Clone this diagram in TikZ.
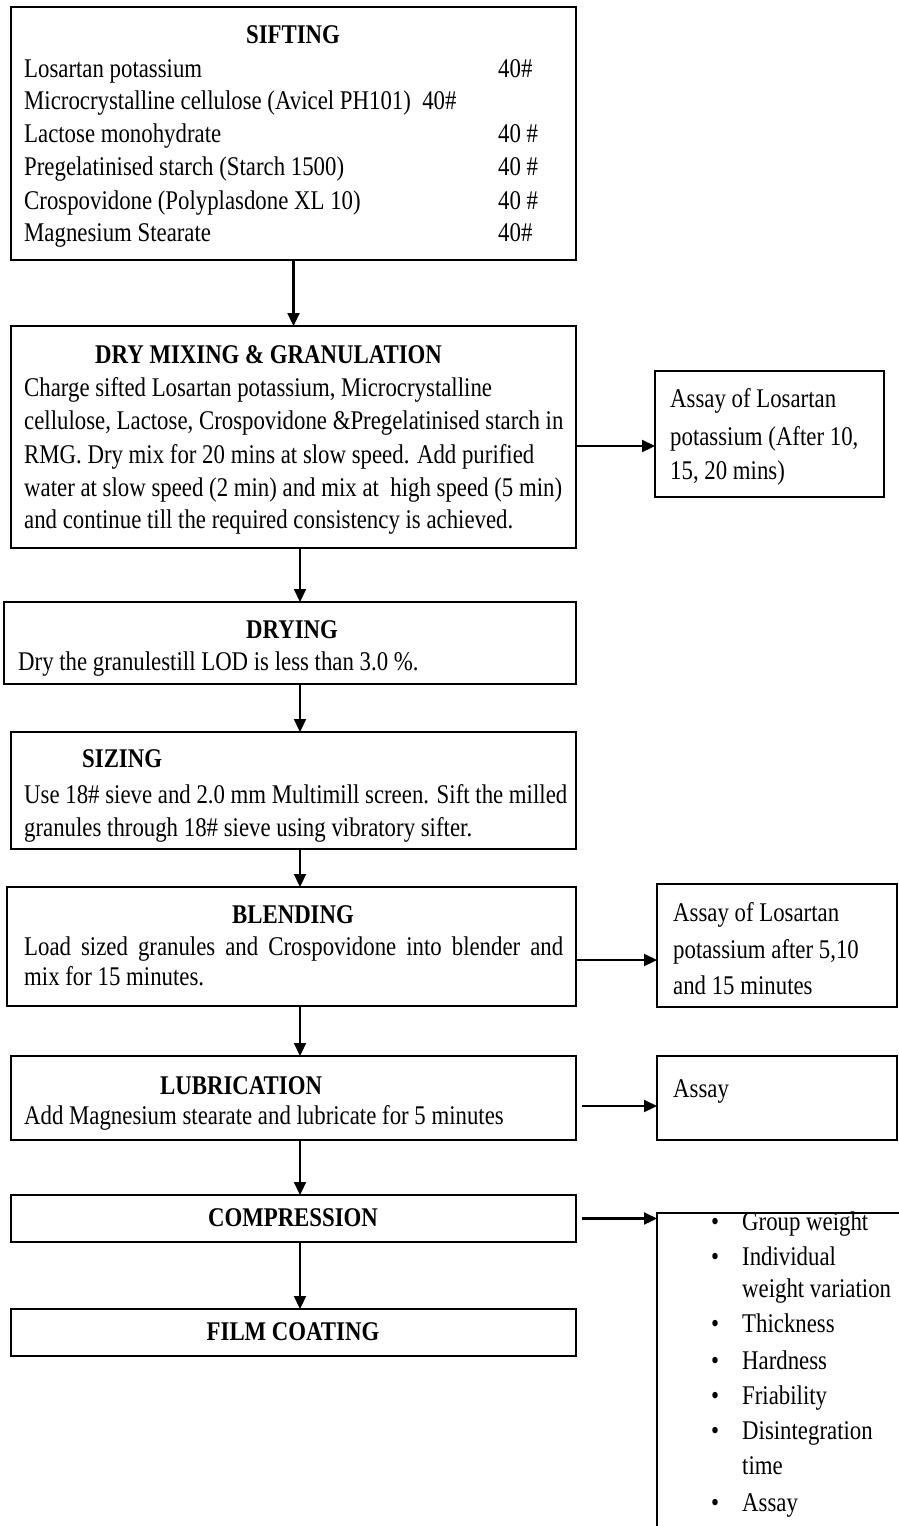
\documentclass[tikz,border=0pt]{standalone}
\usepackage{fontspec}
\setmainfont[FakeStretch=0.845]{Liberation Serif}
\usetikzlibrary{arrows.meta}
\tikzset{
  box/.style={draw, line width=2.2pt, inner sep=0pt, outer sep=0pt},
  txt/.style={anchor=base west, inner sep=0pt, font=\fontsize{27}{33}\selectfont},
  ttl/.style={anchor=base, inner sep=0pt, font=\fontsize{27}{33}\selectfont\bfseries},
  ttlw/.style={anchor=base west, inner sep=0pt, font=\fontsize{27}{33}\selectfont\bfseries},
  arr/.style={line width=2.2pt, -{Triangle[length=13pt,width=12pt]}},
}
\begin{document}
\begin{tikzpicture}[x=1pt,y=-1pt]
\useasboundingbox (0,0) rectangle (899,1526);
% boxes
\node[box, minimum width=565pt, minimum height=253pt] (sift) at (293.5,133.5) {};
\node[box, minimum width=565pt, minimum height=222pt] (mix) at (293.5,437) {};
\node[box, minimum width=229pt, minimum height=126pt] (a1) at (769.5,434) {};
\node[box, minimum width=572pt, minimum height=82pt] (dryg) at (290,643) {};
\node[box, minimum width=565pt, minimum height=117pt] (size) at (293.5,790.5) {};
\node[box, minimum width=569pt, minimum height=119pt] (blend) at (291.5,946.5) {};
\node[box, minimum width=240pt, minimum height=123pt] (a2) at (777,945.5) {};
\node[box, minimum width=565pt, minimum height=84pt] (lub) at (293.5,1098) {};
\node[box, minimum width=240pt, minimum height=84pt] (a3) at (777,1098) {};
\node[box, minimum width=565pt, minimum height=47pt] (comp) at (293.5,1218.5) {};
\node[box, minimum width=565pt, minimum height=47pt] (film) at (293.5,1332.5) {};
\node[inner sep=0pt, outer sep=0pt, minimum width=250pt, minimum height=320pt] (qbox) at (782,1373) {};
\draw[line width=2.2pt] (qbox.north east) -- (qbox.north west) -- (qbox.south west);

% SIFTING
\node[ttl] (t1) at (293,43) {SIFTING};
\node[txt] (s1) at (24,77) {Losartan potassium};
\node[txt] (s1b) at (498,77) {40\#};
\node[txt] (s2) at (24,109) {Microcrystalline cellulose (Avicel PH101) \ 40\#};
\node[txt] (s3) at (24,142) {Lactose monohydrate};
\node[txt] (s3b) at (498,142) {40 \#};
\node[txt] (s4) at (24,175) {Pregelatinised starch (Starch 1500)};
\node[txt] (s4b) at (498,175) {40 \#};
\node[txt] (s5) at (24,209) {Crospovidone (Polyplasdone XL 10)};
\node[txt] (s5b) at (498,209) {40 \#};
\node[txt] (s6) at (24,241) {Magnesium Stearate};
\node[txt] (s6b) at (498,241) {40\#};

% DRY MIXING
\node[ttlw] (t2) at (95,363) {DRY MIXING \& GRANULATION};
\node[txt] (m1) at (24,396) {Charge sifted Losartan potassium, Microcrystalline};
\node[txt] (m2) at (24,429) {cellulose, Lactose, Crospovidone \&Pregelatinised starch in};
\node[txt] (m3) at (24,463) {RMG. Dry mix for 20 mins at slow speed. Add purified};
\node[txt] (m4) at (24,496) {water at slow speed (2 min) and mix at \ high speed (5 min)};
\node[txt] (m5) at (24,528) {and continue till the required consistency is achieved.};

\node[txt] (p1) at (670,407) {Assay of Losartan};
\node[txt] (p2) at (670,445) {potassium (After 10,};
\node[txt] (p3) at (670,479) {15, 20 mins)};

% DRYING
\node[ttl] (t3) at (292,638) {DRYING};
\node[txt] (d1) at (18,670) {Dry the granulestill LOD is less than 3.0 \%.};

% SIZING
\node[ttlw] (t4) at (82,767) {SIZING};
\node[txt] (z1) at (24,803) {Use 18\# sieve and 2.0 mm Multimill screen. Sift the milled};
\node[txt] (z2) at (24,836) {granules through 18\# sieve using vibratory sifter.};

% BLENDING
\node[ttl] (t5) at (293,923) {BLENDING};
\node[txt] (b1) at (24,955) {\makebox[539pt][s]{Load sized granules and Crospovidone into blender and}};
\node[txt] (b2) at (24,985) {mix for 15 minutes.};

\node[txt] (q1) at (673,921) {Assay of Losartan};
\node[txt] (q2) at (673,958) {potassium after 5,10};
\node[txt] (q3) at (673,994) {and 15 minutes};

% LUBRICATION
\node[ttlw] (t6) at (160,1094) {LUBRICATION};
\node[txt] (l1) at (24,1124) {Add Magnesium stearate and lubricate for 5 minutes};
\node[txt] (r1) at (673,1097) {Assay};

% COMPRESSION / FILM COATING
\node[ttl] (t7) at (293,1226) {COMPRESSION};
\node[ttl] (t8) at (293,1340) {FILM COATING};

% tests list
\node[txt] (u1) at (711,1230) {•};
\node[txt] (v1) at (742,1230) {Group weight};
\node[txt] (u2) at (711,1265) {•};
\node[txt] (v2) at (742,1265) {Individual};
\node[txt] (v2b) at (742,1297) {weight variation};
\node[txt] (u3) at (711,1332) {•};
\node[txt] (v3) at (742,1332) {Thickness};
\node[txt] (u4) at (711,1369) {•};
\node[txt] (v4) at (742,1369) {Hardness};
\node[txt] (u5) at (711,1404) {•};
\node[txt] (v5) at (742,1404) {Friability};
\node[txt] (u6) at (711,1439) {•};
\node[txt] (v6) at (742,1439) {Disintegration};
\node[txt] (v6b) at (742,1474) {time};
\node[txt] (u7) at (711,1511) {•};
\node[txt] (v7) at (742,1511) {Assay};

% vertical arrows
\draw[arr] (sift.south) -- (mix.north);
\draw[arr] ([xshift=6.5pt]mix.south) -- ([xshift=10pt]dryg.north);
\draw[arr] ([xshift=10pt]dryg.south) -- ([xshift=6.5pt]size.north);
\draw[arr] ([xshift=6.5pt]size.south) -- ([xshift=8.5pt]blend.north);
\draw[arr] ([xshift=8.5pt]blend.south) -- ([xshift=6.5pt]lub.north);
\draw[arr] ([xshift=6.5pt]lub.south) -- ([xshift=6.5pt]comp.north);
\draw[arr] ([xshift=6.5pt]comp.south) -- ([xshift=6.5pt]film.north);

% horizontal arrows
\coordinate (h1) at ([yshift=-9pt]mix.east);
\coordinate (h2) at ([yshift=-13.5pt]blend.east);
\coordinate (h3) at ([xshift=6pt,yshift=-8pt]lub.east);
\coordinate (h4) at ([xshift=6pt]comp.east);
\draw[arr] (h1) -- (h1 -| a1.west);
\draw[arr] (h2) -- (h2 -| a2.west);
\draw[arr] (h3) -- (h3 -| a3.west);
\draw[arr] (h4) -- (h4 -| qbox.west);
\end{tikzpicture}
\end{document}
